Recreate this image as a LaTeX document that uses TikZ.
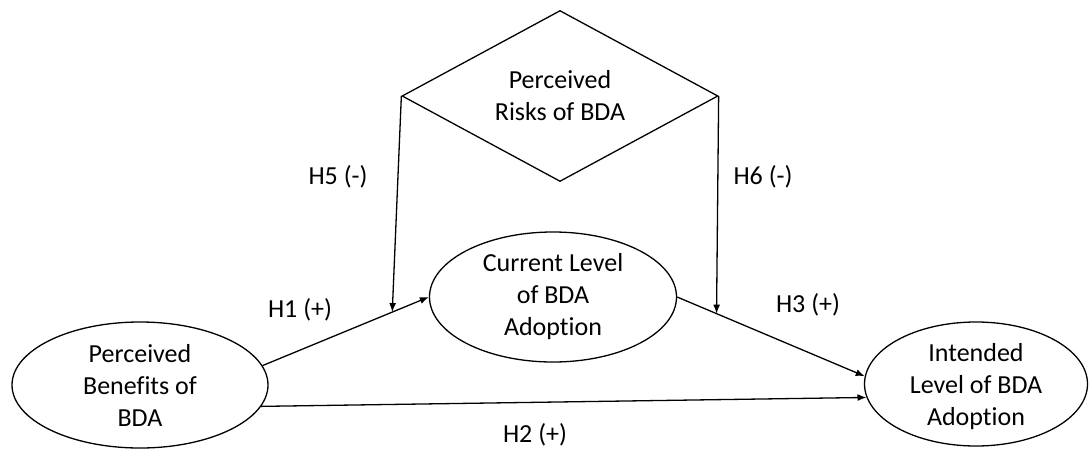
\documentclass[tikz,border=0pt]{standalone}
\usepackage{fontspec}
\setmainfont[Ligatures=NoCommon]{Carlito}
\usetikzlibrary{shapes.geometric,arrows.meta,calc}
\begin{document}
\begin{tikzpicture}[x=1pt,y=-1pt,
  every node/.style={font=\fontsize{26}{32}\selectfont, align=center},
  oval/.style={draw, ellipse, line width=1.3pt, inner sep=0pt},
  risk/.style={draw, diamond, line width=1.3pt, inner sep=0pt, aspect=1.85, minimum width=316pt, minimum height=171pt},
  conn/.style={line width=1.3pt, -{Latex[length=9pt,width=7pt]}},
  lbl/.style={inner sep=0pt}
]
\useasboundingbox (0,0) rectangle (1089,450);
\node[risk] (rk) at (560,96) {Perceived\\Risks of BDA};
\node[oval, minimum width=256pt, minimum height=126pt] (pb) at (140,385) {Perceived\\Benefits of\\BDA};
\node[oval, minimum width=247pt, minimum height=130pt] (cl) at (553,297) {Current Level\\of BDA\\Adoption};
\node[oval, minimum width=223pt, minimum height=124pt, text depth=-4pt] (ib) at (976,384) {Intended\\Level of BDA\\Adoption};
\draw[conn] (pb.9) -- (cl.west);
\draw[conn] (cl.east) -- (ib.176);
\draw[conn] (pb.-10) -- (ib.187);
\coordinate (h5end) at ($(pb.9)!0.78!(cl.west)$);
\coordinate (h6end) at ($(cl.east)!0.21!(ib.176)$);
\draw[conn] (rk.west) -- (h5end);
\draw[conn] (rk.east) -- (h6end);
\node[lbl] (h5) at (338,177) {H5 (-)};
\node[lbl] (h6) at (763,177) {H6 (-)};
\node[lbl] (h1) at (300,310) {H1 (+)};
\node[lbl] (h3) at (808,305) {H3 (+)};
\node[lbl] (h2) at (535,435) {H2 (+)};
\end{tikzpicture}
\end{document}
